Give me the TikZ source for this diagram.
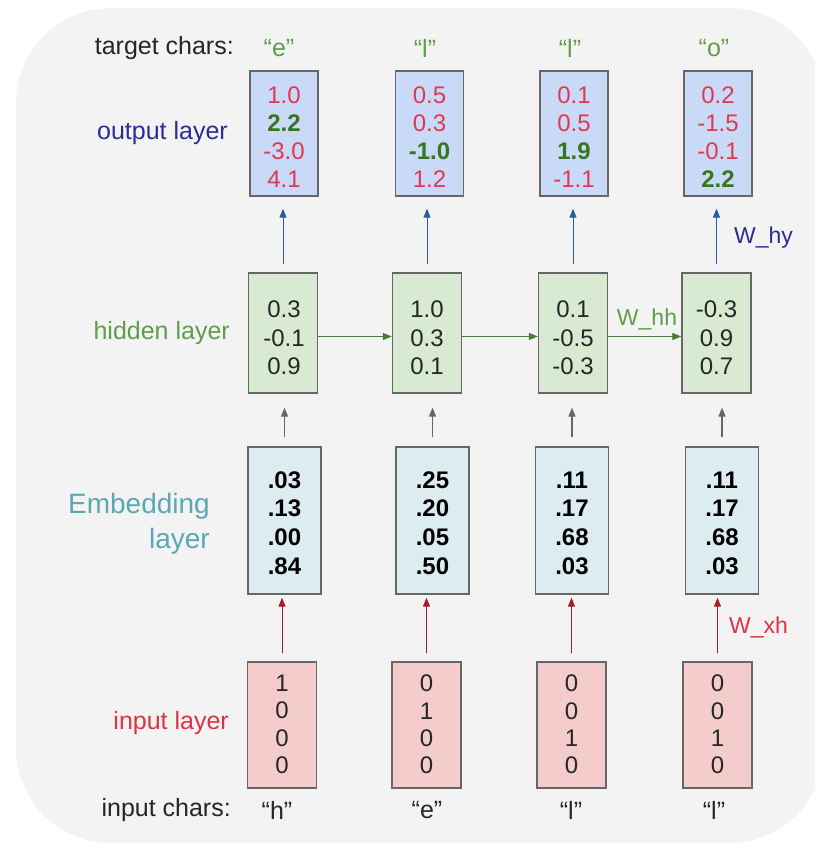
\documentclass[tikz,border=0pt]{standalone}
\usepackage{fontspec}
\setmainfont{Liberation Sans}
\usetikzlibrary{arrows.meta}
\definecolor{bgcol}{HTML}{F3F3F3}
\definecolor{boxline}{HTML}{666666}
\definecolor{outfill}{HTML}{C9DAF8}
\definecolor{hidfill}{HTML}{D9EAD3}
\definecolor{embfill}{HTML}{DDECF1}
\definecolor{inpfill}{HTML}{F4CCCC}
\definecolor{numred}{HTML}{E2384F}
\definecolor{numgreen}{HTML}{38761D}
\definecolor{outlab}{HTML}{2B2B9B}
\definecolor{bluearr}{HTML}{2D5DA1}
\definecolor{hidlab}{HTML}{5E9E48}
\definecolor{greenarr}{HTML}{4A7A35}
\definecolor{grayarr}{HTML}{666666}
\definecolor{emblab}{HTML}{5BA8B5}
\definecolor{redarr}{HTML}{A61C30}
\definecolor{inplab}{HTML}{DD3344}
\definecolor{txtdark}{HTML}{262626}
\newcommand{\rv}[1]{\textcolor{numred}{#1}}
\newcommand{\gv}[1]{\textcolor{numgreen}{\bfseries #1}}
\begin{document}
\begin{tikzpicture}[x=1pt,y=-1pt,
  boxbase/.style={draw=boxline, line width=1.3pt, inner sep=0pt},
  obox/.style={boxbase, fill=outfill, minimum width=68pt, minimum height=125pt},
  hbox/.style={boxbase, fill=hidfill, minimum width=69pt, minimum height=120pt},
  ebox/.style={boxbase, fill=embfill, minimum width=73pt, minimum height=147pt},
  ibox/.style={boxbase, fill=inpfill, minimum width=69pt, minimum height=126pt},
  numtxt/.style={inner sep=0pt, align=center, text=txtdark, font=\fontsize{24}{28.5}\selectfont},
  embtxt/.style={inner sep=0pt, align=center, text=black, font=\fontsize{24}{28.7}\selectfont\bfseries},
  lab/.style={inner sep=0pt, font=\fontsize{25}{30}\selectfont},
  wlab/.style={inner sep=0pt, font=\fontsize{23}{28}\selectfont},
  tip/.style={-{Triangle[length=9pt,width=7pt]}},
  barrow/.style={tip, draw=bluearr, fill=bluearr, line width=1pt, shorten <=8pt, shorten >=12pt},
  garrow/.style={tip, draw=greenarr, fill=greenarr, line width=1.1pt},
  grarrow/.style={tip, draw=grayarr, fill=grayarr, line width=1.4pt, shorten <=9pt, shorten >=14pt},
  rarrow/.style={tip, draw=redarr, fill=redarr, line width=1pt, shorten <=8pt, shorten >=3pt}
]
\useasboundingbox (0,0) rectangle (814,845);
\fill[bgcol, rounded corners=95pt] (16,8) rectangle (824,843);

% output layer
\node[obox] (o1) at (284,133.5) {};
\node[obox] (o2) at (429.5,133.5) {};
\node[obox] (o3) at (574,133.5) {};
\node[obox] (o4) at (718,133.5) {};
\node[numtxt, font=\fontsize{24}{28}\selectfont] (ov1) at (284,137) {\rv{1.0}\\\gv{2.2}\\\rv{-3.0}\\\rv{4.1}};
\node[numtxt, font=\fontsize{24}{28}\selectfont] (ov2) at (429.5,137) {\rv{0.5}\\\rv{0.3}\\\gv{-1.0}\\\rv{1.2}};
\node[numtxt, font=\fontsize{24}{28}\selectfont] (ov3) at (574,137) {\rv{0.1}\\\rv{0.5}\\\gv{1.9}\\\rv{-1.1}};
\node[numtxt, font=\fontsize{24}{28}\selectfont] (ov4) at (718,137) {\rv{0.2}\\\rv{-1.5}\\\rv{-0.1}\\\gv{2.2}};

% hidden layer
\node[hbox] (h1) at (283,333) {};
\node[hbox] (h2) at (427,333) {};
\node[hbox] (h3) at (573,333) {};
\node[hbox] (h4) at (716.5,333) {};
\node[numtxt] (hv1) at (284,338) {0.3\\-0.1\\0.9};
\node[numtxt] (hv2) at (427,338) {1.0\\0.3\\0.1};
\node[numtxt] (hv3) at (573,338) {0.1\\-0.5\\-0.3};
\node[numtxt] (hv4) at (716.5,338) {-0.3\\0.9\\0.7};

% embedding layer
\node[ebox] (e1) at (284.5,520.5) {};
\node[ebox] (e2) at (432.5,520.5) {};
\node[ebox] (e3) at (572,520.5) {};
\node[ebox] (e4) at (722,520.5) {};
\node[embtxt] (ev1) at (284.5,523) {.03\\.13\\.00\\.84};
\node[embtxt] (ev2) at (432.5,523) {.25\\.20\\.05\\.50};
\node[embtxt] (ev3) at (572,523) {.11\\.17\\.68\\.03};
\node[embtxt] (ev4) at (722,523) {.11\\.17\\.68\\.03};

% input layer
\node[ibox] (i1) at (282,725) {};
\node[ibox] (i2) at (426.5,725) {};
\node[ibox] (i3) at (571.5,725) {};
\node[ibox] (i4) at (717.5,725) {};
\node[numtxt, font=\fontsize{24}{27.3}\selectfont] (iv1) at (282,724.5) {1\\0\\0\\0};
\node[numtxt, font=\fontsize{24}{27.3}\selectfont] (iv2) at (426.5,724.5) {0\\1\\0\\0};
\node[numtxt, font=\fontsize{24}{27.3}\selectfont] (iv3) at (571.5,724.5) {0\\0\\1\\0};
\node[numtxt, font=\fontsize{24}{27.3}\selectfont] (iv4) at (717.5,724.5) {0\\0\\1\\0};

% connectors
\foreach \k in {1,2,3,4} {
  \draw[barrow] (h\k.north) -- (h\k.north |- o\k.south);
  \draw[grarrow] (e\k.north) -- (e\k.north |- h\k.south);
  \draw[rarrow] (i\k.north) -- (i\k.north |- e\k.south);
}
\draw[garrow] ([yshift=-3.5pt]h1.east) -- ([yshift=-3.5pt]h2.west);
\draw[garrow] ([yshift=-3.5pt]h2.east) -- ([yshift=-3.5pt]h3.west);
\draw[garrow] ([yshift=-3.5pt]h3.east) -- ([yshift=-3.5pt]h4.west);

% labels
\node[lab, anchor=east, text=txtdark] (tc) at (234,48) {target chars:};
\node[lab, text=hidlab] (t1) at (279,48) {“e”};
\node[lab, text=hidlab] (t2) at (425,48) {“l”};
\node[lab, text=hidlab] (t3) at (570,48) {“l”};
\node[lab, text=hidlab] (t4) at (714,48) {“o”};
\node[lab, anchor=east, text=outlab] (ol) at (228,133) {output layer};
\node[lab, anchor=east, text=hidlab] (hl) at (230,333) {hidden layer};
\node[inner sep=0pt, anchor=east, align=right, text=emblab, font=\fontsize{28}{35}\selectfont] (el) at (210,524) {Embedding\\layer};
\node[lab, anchor=east, text=inplab] (il) at (229,723) {input layer};
\node[lab, anchor=east, text=txtdark] (ic) at (231,810) {input chars:};
\node[lab, text=txtdark] (c1) at (277,810) {“h”};
\node[lab, text=txtdark] (c2) at (427,810) {“e”};
\node[lab, text=txtdark] (c3) at (571,810) {“l”};
\node[lab, text=txtdark] (c4) at (714,810) {“l”};
\node[wlab, anchor=west, text=outlab] (why) at (734,238) {W\_hy};
\node[wlab, text=hidlab] (whh) at (647,319) {W\_hh};
\node[wlab, anchor=west, text=inplab] (wxh) at (729,627) {W\_xh};
\end{tikzpicture}
\end{document}
